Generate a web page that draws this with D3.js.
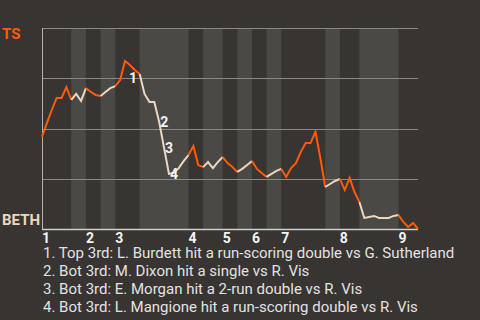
<!DOCTYPE html>
<html>
<head>
<meta charset="utf-8">
<script src="https://cdn.jsdelivr.net/npm/d3@7"></script>
<style>
  html, body { margin: 0; padding: 0; background: #373431; overflow: hidden; }
  svg { display: block; font-family: Roboto, "Noto Sans", sans-serif; }
</style>
</head>
<body>
<div id="chart"></div>
<script>
// TS win probability after each plate appearance (0 = BETH wins, 1 = TS wins)
const winProb = [
  0.458, 0.527, 0.592, 0.652, 0.652, 0.706, 0.642, 0.672, 0.637, 0.701,
  0.682, 0.667, 0.662, 0.682, 0.701, 0.711, 0.741, 0.836, 0.816, 0.791,
  0.771, 0.672, 0.632, 0.632, 0.532, 0.403, 0.274, 0.279, 0.303, 0.338,
  0.368, 0.413, 0.318, 0.308, 0.333, 0.303, 0.333, 0.358, 0.328, 0.308,
  0.284, 0.299, 0.318, 0.338, 0.299, 0.279, 0.259, 0.274, 0.289, 0.299,
  0.259, 0.303, 0.328, 0.383, 0.428, 0.428, 0.483, 0.353, 0.209, 0.224,
  0.239, 0.249, 0.194, 0.254, 0.184, 0.134, 0.055, 0.060, 0.065, 0.055,
  0.055, 0.055, 0.065, 0.070, 0.035, 0.010, 0.030, 0.000
];

// event index where each half-inning begins (top 1, bot 1, top 2, ...), last = end
const halfStarts = [0, 6, 9, 12, 15, 20, 30, 33, 37, 40, 43, 46, 49, 58, 61, 65, 73, 77];

const innings = ['1', '2', '3', '4', '5', '6', '7', '8', '9'];

// numbered key plays: event index -> label
const keyPlays = [
  { idx: 17, label: '1' },
  { idx: 24, label: '2' },
  { idx: 25, label: '3' },
  { idx: 26, label: '4' }
];

const notes = [
  '1. Top 3rd: L. Burdett hit a run-scoring double vs G. Sutherland',
  '2. Bot 3rd: M. Dixon hit a single vs R. Vis',
  '3. Bot 3rd: E. Morgan hit a 2-run double vs R. Vis',
  '4. Bot 3rd: L. Mangione hit a run-scoring double vs R. Vis'
];

const teams = { top: 'TS', bottom: 'BETH' };

const width = 480;
const height = 320;
const margin = { top: 28, right: 62, bottom: 91, left: 42 };
const innerWidth = width - margin.left - margin.right;
const innerHeight = height - margin.top - margin.bottom;

const orange = '#ff5a0a';
const beige = '#ecd6c0';

const svg = d3.select('#chart')
  .append('svg')
  .attr('width', width)
  .attr('height', height);

svg.append('rect')
  .attr('width', width).attr('height', height)
  .attr('fill', '#373431');

const g = svg.append('g')
  .attr('transform', `translate(${margin.left},${margin.top})`);

const x = d3.scaleLinear()
  .domain([0, winProb.length - 1])
  .range([0, innerWidth]);

const y = d3.scaleLinear()
  .domain([0, 1])
  .range([innerHeight, 0]);

// half-inning bands (bottom halves shaded)
const halves = d3.range(halfStarts.length - 1).map(i => ({
  i, start: halfStarts[i], end: halfStarts[i + 1]
}));

g.selectAll('.band')
  .data(halves.filter(h => h.i % 2 === 1))
  .join('rect')
  .attr('class', 'band')
  .attr('x', d => x(d.start))
  .attr('width', d => x(d.end) - x(d.start))
  .attr('y', 0)
  .attr('height', innerHeight)
  .attr('fill', '#4b4946');

// grid lines
g.append('g')
  .selectAll('line')
  .data([0.25, 0.5, 0.75, 1])
  .join('line')
  .attr('x1', 0).attr('x2', innerWidth)
  .attr('y1', d => Math.round(y(d)) + 0.5)
  .attr('y2', d => Math.round(y(d)) + 0.5)
  .attr('stroke', '#8a8885')
  .attr('stroke-width', 1);

// axes lines
g.append('line')
  .attr('x1', 0.5).attr('x2', 0.5)
  .attr('y1', 0).attr('y2', innerHeight)
  .attr('stroke', '#b5b3b0');

g.append('line')
  .attr('x1', 0).attr('x2', innerWidth)
  .attr('y1', innerHeight + 0.5).attr('y2', innerHeight + 0.5)
  .attr('stroke', '#d0cecb')
  .attr('stroke-width', 1.5);

// line, one path per half-inning
const line = d3.line()
  .x(d => x(d.idx))
  .y(d => y(d.p));

g.selectAll('.wp-line')
  .data(halves)
  .join('path')
  .attr('class', 'wp-line')
  .attr('d', h => line(d3.range(h.start, h.end + 1).map(idx => ({ idx, p: winProb[idx] }))))
  .attr('fill', 'none')
  .attr('stroke', h => h.i % 2 === 0 ? orange : beige)
  .attr('stroke-width', 2)
  .attr('stroke-linejoin', 'miter');

// key play labels (below the line when TS gained, beside it otherwise)
g.selectAll('.key')
  .data(keyPlays)
  .join('text')
  .attr('class', 'key')
  .attr('x', d => {
    const rise = winProb[d.idx] > winProb[d.idx - 1];
    return x(d.idx) + (rise ? 4 : 1);
  })
  .attr('y', d => {
    const rise = winProb[d.idx] > winProb[d.idx - 1];
    return y(winProb[d.idx]) + (rise ? 22 : 5);
  })
  .attr('fill', '#f2f2f2')
  .attr('font-size', '14px')
  .attr('font-weight', 'bold')
  .text(d => d.label);

// inning labels
g.selectAll('.inning')
  .data(innings)
  .join('text')
  .attr('class', 'inning')
  .attr('x', (d, i) => x(halfStarts[i * 2]))
  .attr('y', innerHeight + 14)
  .attr('fill', '#f4f4f4')
  .attr('font-size', '14px')
  .attr('font-weight', 'bold')
  .text(d => d);

// team labels
svg.append('text')
  .attr('x', 2).attr('y', 39)
  .attr('fill', orange)
  .attr('font-size', '15px')
  .attr('font-weight', 'bold')
  .text(teams.top);

svg.append('text')
  .attr('x', 2).attr('y', 225)
  .attr('fill', beige)
  .attr('font-size', '15px')
  .attr('font-weight', 'bold')
  .text(teams.bottom);

// notes
svg.append('g')
  .selectAll('text')
  .data(notes)
  .join('text')
  .attr('x', 43)
  .attr('y', (d, i) => 258 + i * 18)
  .attr('fill', '#e2e2e2')
  .attr('font-size', '15px')
  .text(d => d);
</script>
</body>
</html>
